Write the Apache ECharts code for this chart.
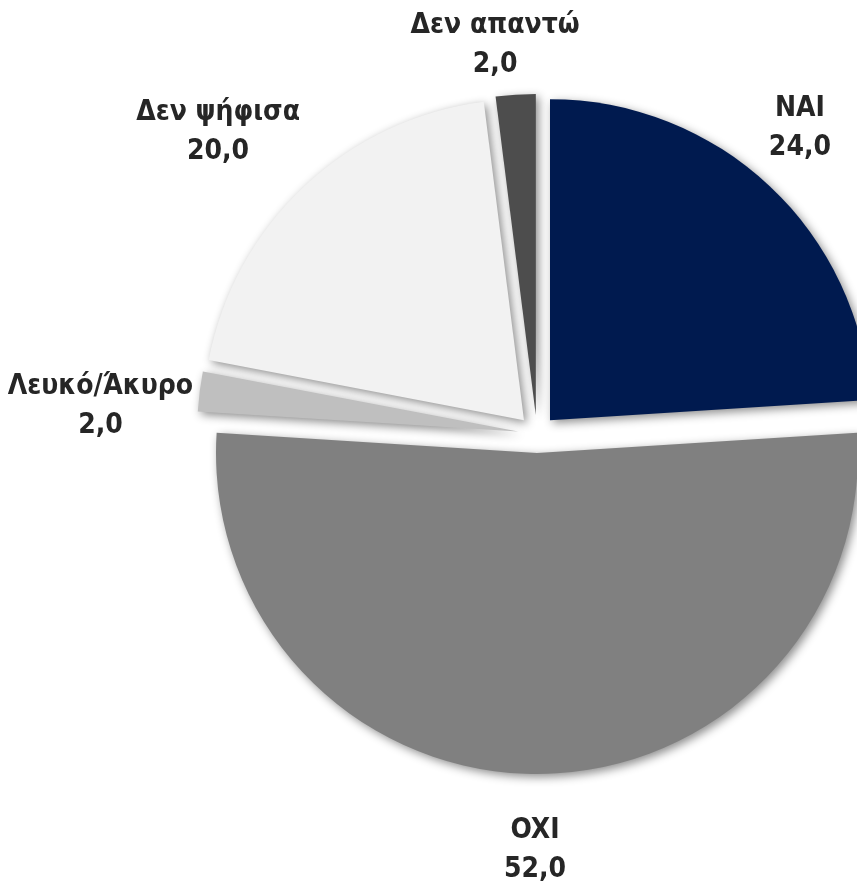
<!DOCTYPE html>
<html>
<head>
<meta charset="utf-8">
<script src="https://cdn.jsdelivr.net/npm/echarts@6/dist/echarts.min.js"></script>
<style>
  html, body { margin: 0; padding: 0; background: #fff; }
  #main { width: 857px; height: 884px; }
</style>
</head>
<body>
<div id="main"></div>
<script>
const categories = ['NAI', 'OXI', 'Λευκό/Άκυρο', 'Δεν ψήφισα', 'Δεν απαντώ'];
const values = [24.0, 52.0, 2.0, 20.0, 2.0];
const colors = ['#001a4f', '#808080', '#bfbfbf', '#f2f2f2', '#4d4d4d'];
// label placement tweaks (distance past the rim, then a small nudge)
const labelGap = [66, 71, 98, 104, 56];
const labelNudge = [[-15, -10], [-2, 5], [-2, 27], [-15, 22], [-17, 6]];

const chart = echarts.init(document.getElementById('main'), null, { renderer: 'canvas' });

const data = categories.map((name, i) => ({
    name,
    value: values[i],
    selected: true,
    itemStyle: { color: colors[i] },
    labelLine: { length: labelGap[i], length2: 0 }
}));

chart.setOption({
    animation: false,
    backgroundColor: '#fff',
    series: [{
        type: 'pie',
        center: [537, 434],
        radius: 321,
        startAngle: 90,
        clockwise: true,
        selectedMode: 'multiple',
        selectedOffset: 19,
        avoidLabelOverlap: false,
        itemStyle: {
            shadowColor: 'rgba(0,0,0,0.45)',
            shadowBlur: 10,
            shadowOffsetX: 3,
            shadowOffsetY: 3
        },
        label: {
            show: true,
            position: 'outside',
            distanceToLabelLine: 0,
            formatter: p => p.name + '\n' + p.value.toFixed(1).replace('.', ','),
            fontFamily: '"DejaVu Sans Condensed", "Liberation Sans Narrow", sans-serif',
            fontWeight: 'bold',
            fontSize: 28,
            lineHeight: 39,
            color: '#262626'
        },
        labelLine: { show: false },
        labelLayout: (p) => ({
            align: 'center',
            verticalAlign: 'middle',
            dx: labelNudge[p.dataIndex][0],
            dy: labelNudge[p.dataIndex][1]
        }),
        emphasis: { disabled: true },
        data
    }]
});
</script>
</body>
</html>
